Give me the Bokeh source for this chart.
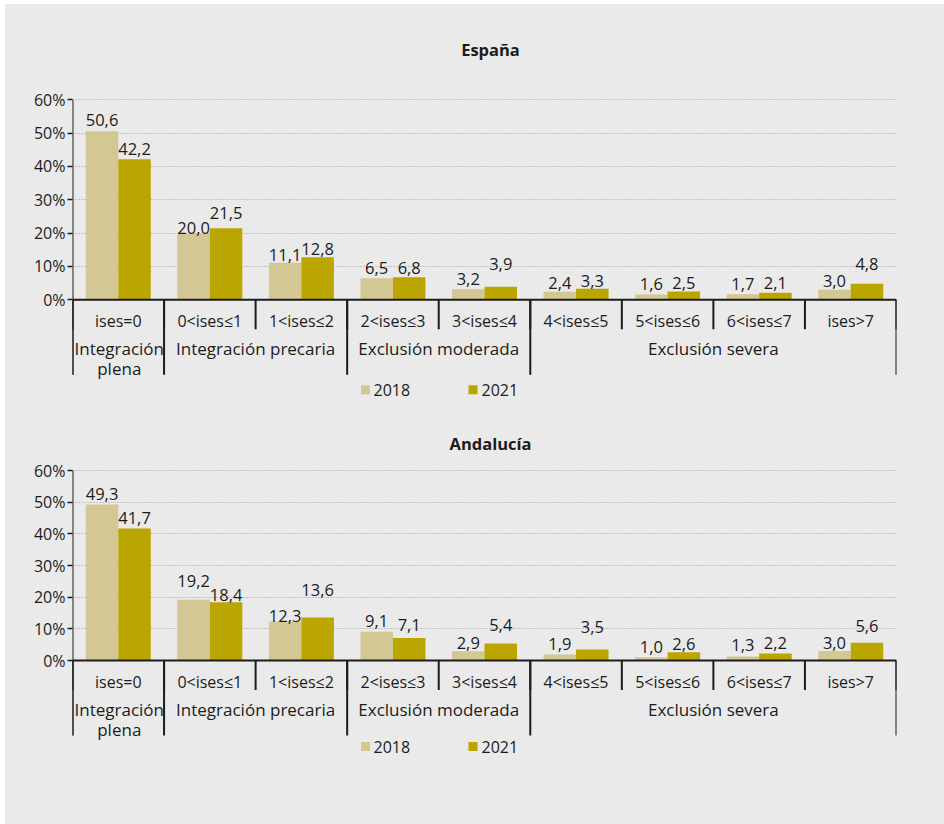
from bokeh.plotting import figure
from bokeh.layouts import column
from bokeh.models import Range1d, FixedTicker, ColumnDataSource
from bokeh.core.properties import value
from bokeh.embed import file_html
from bokeh.resources import INLINE

# ---- data -------------------------------------------------------------
categories = ["ises=0", "0<ises≤1", "1<ises≤2", "2<ises≤3", "3<ises≤4",
              "4<ises≤5", "5<ises≤6", "6<ises≤7", "ises>7"]
groups = ["Integración\nplena", "Integración precaria",
          "Exclusión moderada", "Exclusión severa"]
group_sizes = [1, 2, 2, 4]
years = ["2018", "2021"]

espana_2018 = [50.6, 20.0, 11.1, 6.5, 3.2, 2.4, 1.6, 1.7, 3.0]
espana_2021 = [42.2, 21.5, 12.8, 6.8, 3.9, 3.3, 2.5, 2.1, 4.8]
andalucia_2018 = [49.3, 19.2, 12.3, 9.1, 2.9, 1.9, 1.0, 1.3, 3.0]
andalucia_2021 = [41.7, 18.4, 13.6, 7.1, 5.4, 3.5, 2.6, 2.2, 5.6]

y_ticks = [0, 10, 20, 30, 40, 50, 60]

# ---- style ------------------------------------------------------------
FONT = "Open Sans"
BG = "#eaeaea"
C2018 = "#d3c793"
C2021 = "#bba500"
INK = "#1c1c1c"
BAR_W = 0.355
LABEL_GAP = 9.5          # px between bar top and value label baseline
FRAME_W = 824

# extra lift (px) for value labels that sit higher or lower than usual
lift_es_2018 = [2, -4, -2, 1, 1, -1, 1, 1, -1]
lift_es_2021 = [1, 5.5, -1, 0, 13.5, -1.5, -1, 0.5, 10.5]
lift_an_2018 = [1, 9, -3.5, 1.5, -1, 1, 1, 1.5, -1.5]
lift_an_2021 = [1, -2, 17.5, 4, 8.5, 12.7, -1, 1, 7]
# horizontal nudge (px) of the group names
group_shift = [1, 0, 0, 0]


def fmt(v):
    return f"{v:.1f}".replace(".", ",")


def panel(title, v2018, v2021, lift2018, lift2021, zero_px, ppu, title_px, legend_px):
    W, H = 939, 410
    n = len(categories)
    to_data = lambda px: px / ppu          # vertical pixels -> data units
    to_x = lambda px: px * n / FRAME_W     # horizontal pixels -> data units
    p = figure(width=W, height=H, output_backend="svg", toolbar_location=None,
               x_range=Range1d(0, n),
               y_range=Range1d(-to_data(H - zero_px), to_data(zero_px)),
               x_axis_location=None, min_border_left=67,
               min_border_right=W - 67 - FRAME_W,
               min_border_top=0, min_border_bottom=0,
               background_fill_color=None, border_fill_color=None)
    p.outline_line_color = None
    p.xgrid.visible = False

    ax = p.yaxis[0]
    ax.ticker = FixedTicker(ticks=y_ticks)
    ax.major_label_overrides = {t: f"{t}%" for t in y_ticks}
    ax.axis_line_color = None
    ax.major_tick_line_color = INK
    ax.major_tick_line_width = 1.5
    ax.major_tick_out = 5
    ax.major_tick_in = 0
    ax.minor_tick_line_color = None
    ax.major_label_standoff = 2
    ax.major_label_text_font = FONT
    ax.major_label_text_font_size = "16px"
    ax.major_label_text_color = INK
    p.ygrid.ticker = FixedTicker(ticks=y_ticks)
    p.ygrid.grid_line_color = "#9c9c9c"
    p.ygrid.grid_line_dash = "1 2"
    p.ygrid.grid_line_width = 1

    centers = [i + 0.5 for i in range(n)]
    for vals, lifts, color, shift in ((v2018, lift2018, C2018, -BAR_W / 2),
                                      (v2021, lift2021, C2021, BAR_W / 2)):
        src = ColumnDataSource(dict(
            x=[c + shift for c in centers], top=vals,
            label=[fmt(v) for v in vals],
            off=[-(LABEL_GAP + l) for l in lifts]))
        p.vbar(x="x", top="top", bottom=0, width=BAR_W, source=src,
               fill_color=color, line_color=None)
        p.text(x="x", y="top", text="label", y_offset="off", source=src,
               text_align="center", text_baseline="alphabetic",
               text_font=value(FONT), text_font_size="16.5px", text_color=INK)

    # category axis: baseline, short separators, category names
    cat_depth = to_data(29.5)
    grp_depth = to_data(75)
    p.segment(x0=[0], y0=[0], x1=[n], y1=[0], line_color=INK, line_width=2)
    p.segment(x0=list(range(n + 1)), y0=[0] * (n + 1),
              x1=list(range(n + 1)), y1=[-cat_depth] * (n + 1),
              line_color=INK, line_width=2)
    p.text(x=centers, y=[-to_data(21)] * n, text=categories,
           text_align="center", text_baseline="middle",
           text_font=value(FONT), text_font_size="16px", text_color=INK)

    # group level: long separators and group names
    bounds = [0]
    for s in group_sizes:
        bounds.append(bounds[-1] + s)
    p.segment(x0=bounds, y0=[0] * len(bounds), x1=bounds,
              y1=[-grp_depth] * len(bounds), line_color=INK, line_width=2)
    gcent = [(a + b) / 2 for a, b in zip(bounds[:-1], bounds[1:])]
    p.text(x=gcent, y=[-to_data(37.5)] * len(groups), text=groups,
           x_offset=group_shift,
           text_align="center", text_baseline="top", text_line_height=0.85,
           text_font=value(FONT), text_font_size="17px", text_color=INK)

    # value axis line
    p.segment(x0=[0], y0=[y_ticks[-1]], x1=[0], y1=[-grp_depth],
              line_color=INK, line_width=2)

    # title
    p.text(x=[n / 2], y=[to_data(zero_px - title_px)], text=[title],
           x_offset=6, text_align="center", text_baseline="middle",
           text_font=value(FONT), text_font_style="bold",
           text_font_size="16.5px", text_color=INK)

    # legend
    ly = -to_data(legend_px)
    p.scatter(x=[n / 2 + to_x(-119), n / 2 + to_x(-11.5)], y=[ly, ly],
              marker="square", size=9, color=[C2018, C2021], line_color=None)
    p.text(x=[n / 2 + to_x(-111), n / 2 + to_x(-3)], y=[ly, ly], text=years,
           text_align="left", text_baseline="middle",
           text_font=value(FONT), text_font_size="16px", text_color=INK)
    return p


p1 = panel("España", espana_2018, espana_2021, lift_es_2018, lift_es_2021,
           zero_px=295.3, ppu=200 / 60, title_px=45, legend_px=90)
p2 = panel("Andalucía", andalucia_2018, andalucia_2021, lift_an_2018, lift_an_2021,
           zero_px=246, ppu=190 / 60, title_px=29.3, legend_px=86)

layout = column(p1, p2, spacing=0, margin=(4, 0, 0, 5),
                styles={"background-color": BG})

open("out.html", "w").write(file_html(layout, INLINE))
